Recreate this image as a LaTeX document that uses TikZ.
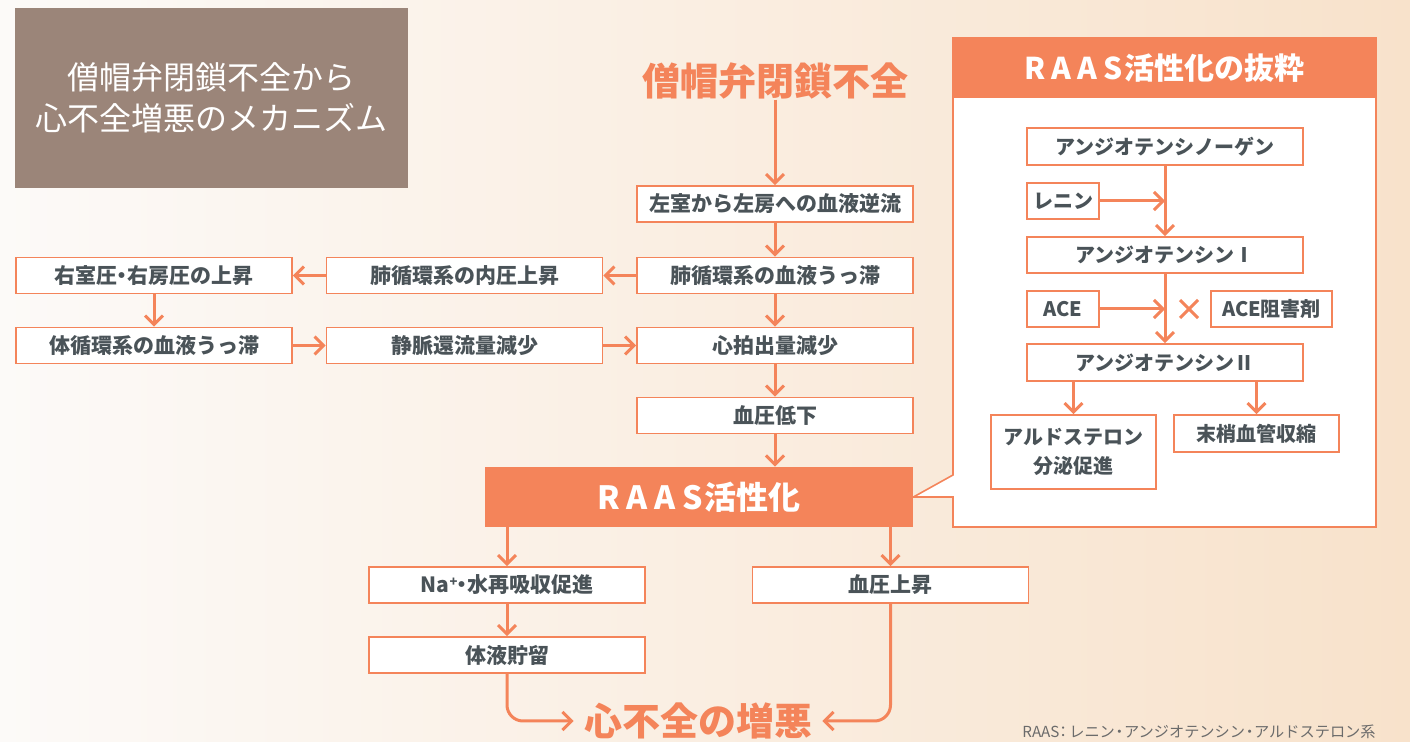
\documentclass[tikz,border=0pt]{standalone}
\usepackage{fontspec}
\setmainfont{Noto Sans CJK JP}
\usetikzlibrary{arrows.meta,calc}
\definecolor{org}{HTML}{F4845A}
\definecolor{txt}{HTML}{4A5358}
\definecolor{ttl}{HTML}{9B8579}
\definecolor{bgL}{HTML}{FCFAF8}
\definecolor{bgM}{HTML}{FBF2EA}
\definecolor{bgR}{HTML}{F8E2CB}
\definecolor{fnote}{HTML}{6B6B6B}
\newcommand{\ndot}{\kern-0.27em・\kern-0.27em}
\newcommand{\fdot}{\kern-0.2em・\kern-0.2em}
\begin{document}
\begin{tikzpicture}[x=0.5pt,y=-0.5pt,
 box/.style={draw=org,line width=0.8pt,fill=white,inner sep=0pt,text=txt,
   font=\bfseries\fontsize{10.5}{12}\selectfont,minimum height=18pt},
 wbox/.style={box,minimum width=138pt},
 pbox/.style={box,font=\bfseries\fontsize{10}{12}\selectfont},
 arr/.style={draw=org,line width=1.5pt,-{Straight Barb[length=4.5pt,width=9pt]}},
 bigtxt/.style={text=org,inner sep=0pt,font=\bfseries\fontsize{19}{22}\selectfont},
]
\useasboundingbox (0,0) rectangle (1410,742);
\shade[left color=bgL, middle color=bgM, right color=bgR] (0,0) rectangle (1410,742);

% title box
\node[fill=ttl,minimum width=196.5pt,minimum height=90pt,inner sep=0pt,text=white,
  align=center,font=\fontsize{16}{20.5}\selectfont] (tbox) at (211.5,98)
  {僧帽弁閉鎖不全から\\心不全増悪のメカニズム};

% main flow
\node[bigtxt] (title) at (775,81) {僧帽弁閉鎖不全};
\node[wbox] (b1) at (775,204) {左室から左房への血液逆流};
\node[wbox] (b2) at (775,275.5) {肺循環系の血液うっ滞};
\node[wbox] (b3) at (464.5,275.5) {肺循環系の内圧上昇};
\node[wbox] (b4) at (154,275.5) {右室圧\ndot 右房圧の上昇};
\node[wbox] (b5) at (154,345.5) {体循環系の血液うっ滞};
\node[wbox] (b6) at (464.5,345.5) {静脈還流量減少};
\node[wbox] (b7) at (775,345.5) {心拍出量減少};
\node[wbox] (b8) at (775,415.5) {血圧低下};
\node[fill=org,minimum width=214pt,minimum height=30pt,inner sep=0pt,text=white,
  font=\bfseries\fontsize{16}{18}\selectfont] (raas) at (699,497)
  {R\kern3.3pt A\kern3.3pt A\kern3.3pt S\kern0.8pt 活性化};
\node[wbox] (na) at (507,585) {Na\raisebox{0.55ex}{\fontsize{6.5}{7}\selectfont +}\ndot 水再吸収促進};
\node[wbox] (bp) at (890.5,585) {血圧上昇};
\node[wbox] (tai) at (507,655) {体液貯留};
\node[bigtxt,inner xsep=5pt] (final) at (698,721) {心不全の増悪};

\draw[arr] (title.south) -- (b1.north);
\draw[arr] (b1.south) -- (b2.north);
\draw[arr] (b2.west) -- (b3.east);
\draw[arr] (b3.west) -- (b4.east);
\draw[arr] (b4.south) -- (b5.north);
\draw[arr] (b5.east) -- (b6.west);
\draw[arr] (b6.east) -- (b7.west);
\draw[arr] (b2.south) -- (b7.north);
\draw[arr] (b7.south) -- (b8.north);
\draw[arr] (b8.south) -- (b8.south |- raas.north);
\draw[arr] (na.north |- raas.south) -- (na.north);
\draw[arr] (bp.north |- raas.south) -- (bp.north);
\draw[arr] (na.south) -- (tai.north);
\draw[arr,rounded corners=8pt] (tai.south) |- (final.west);
\draw[arr,rounded corners=8pt] (bp.south) |- (final.east);

% RAAS panel
\coordinate (pTL) at (953,38);
\coordinate (pTR) at (1376,38);
\coordinate (pBR) at (1376,527);
\coordinate (pBL) at (953,527);
\coordinate (pA) at (953,497);
\coordinate (pB) at (953,475);
\draw[org,line width=0.8pt,fill=white] (pTL) -- (pTR) -- (pBR) -- (pBL) -- (pA) -- (raas.east) -- (pB) -- cycle;
\fill[org] (953,38) rectangle (1376,98);
\node[text=white,font=\bfseries\fontsize{15}{17}\selectfont] (ptitle) at (1164.5,68)
  {R\kern3pt A\kern3pt A\kern3pt S\kern0.8pt 活性化の抜粋};

\node[pbox,minimum width=138pt,minimum height=18.5pt] (ag) at (1165,146.5) {アンジオテンシノーゲン};
\node[pbox,minimum width=36pt] (ren) at (1063,201) {レニン};
\node[pbox,minimum width=138pt] (at1) at (1165,255) {アンジオテンシンⅠ};
\node[pbox,minimum width=36pt] (ace) at (1063,309) {ACE};
\node[pbox,minimum width=60.5pt] (acei) at (1271.5,309) {ACE阻害剤};
\node[pbox,minimum width=138pt,minimum height=18.5pt] (at2) at (1165,362.5) {アンジオテンシンⅡ};
\node[pbox,minimum width=82.5pt,minimum height=37pt,align=center,
  font=\bfseries\fontsize{10}{14.5}\selectfont] (ald) at (1073.5,452) {アルドステロン\\分泌促進};
\node[pbox,minimum width=82.5pt,minimum height=18.5pt] (mat) at (1256.5,433.5) {末梢血管収縮};

\draw[arr] (ag.south) -- (at1.north);
\draw[arr] (ren.east) -- (ag.south |- ren.east);
\draw[arr] (at1.south) -- (at2.north);
\draw[arr] (ace.east) -- (at1.south |- ace.east);
\draw[arr] (ald.north |- at2.south) -- (ald.north);
\draw[arr] (mat.north |- at2.south) -- (mat.north);
\draw[org,line width=1.5pt] (1180,300) -- (1198,318) (1180,318) -- (1198,300);

\node[text=fnote,font=\fontsize{7.6}{9}\selectfont,anchor=east,inner sep=0pt] (fn) at (1376,732)
  {RAAS\kern-0.25em：\kern-0.1em レニン\fdot アンジオテンシン\fdot アルドステロン系};
\end{tikzpicture}
\end{document}
